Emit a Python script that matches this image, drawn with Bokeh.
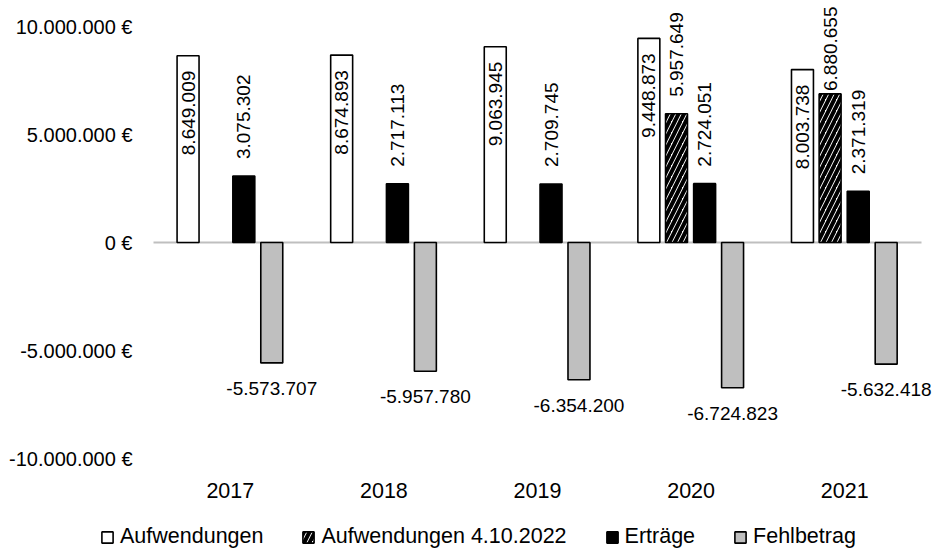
import math
from bokeh.plotting import figure
from bokeh.models import (ColumnDataSource, LabelSet, FixedTicker, Range1d,
                          CustomJSTickFormatter, Legend, LegendItem)
from bokeh.core.properties import value
from bokeh.transform import dodge
from bokeh.embed import file_html
from bokeh.resources import INLINE

# ---- data ----
years = ["2017", "2018", "2019", "2020", "2021"]
aufwendungen = [8649009, 8674893, 9063945, 9448873, 8003738]
aufw_2022_years = ["2020", "2021"]
aufwendungen_2022 = [5957649, 6880655]
ertraege = [3075302, 2717113, 2709745, 2724051, 2371319]
fehlbetrag = [-5573707, -5957780, -6354200, -6724823, -5632418]
y_ticks = [-10000000, -5000000, 0, 5000000, 10000000]
series_names = ["Aufwendungen", "Aufwendungen 4.10.2022", "Erträge", "Fehlbetrag"]


def de(v):
    s = f"{abs(int(v)):,}".replace(",", ".")
    return ("-" if v < 0 else "") + s


FONT = "Liberation Sans"
W_FIG, H_FIG = 933, 557
CAT_PX = 153.6                      # pixels per category
X0_PX = 229.8                       # pixel of first category centre
X_START = -X0_PX / CAT_PX
X_END = X_START + W_FIG / CAT_PX
PX_PER_M = 21.6
Y_TOP = 242 / PX_PER_M * 1e6        # value at figure top
Y_BOT = Y_TOP - H_FIG / PX_PER_M * 1e6
Y_XAXIS = Y_TOP - 469 / PX_PER_M * 1e6

idx = {y: i for i, y in enumerate(years)}

p = figure(x_range=Range1d(X_START, X_END), y_range=Range1d(Y_BOT, Y_TOP),
           width=W_FIG, height=H_FIG, output_backend="svg", toolbar_location=None,
           min_border_left=0, min_border_right=0, min_border_top=0, min_border_bottom=0)
p.outline_line_color = None
p.xgrid.visible = False
p.ygrid.visible = False
p.background_fill_color = "white"
p.border_fill_color = "white"

# zero line across the category area
p.segment(x0=[-0.5], y0=[0], x1=[len(years) - 0.5], y1=[0],
          line_color="#BFBFBF", line_width=2)

W = 0.143
offs = [-0.275, -0.095, 0.088, 0.27]
LBL_PX = 19
top_px = lambda v: (Y_TOP - v) / 1e6 * PX_PER_M
digits_w = lambda s: LBL_PX * sum(0.278 if c == "." else (0.333 if c == "-" else 0.556) for c in s)

s_a = ColumnDataSource(dict(x=[idx[y] for y in years], v=aufwendungen,
                            t=[de(v) for v in aufwendungen]))
t_h = [de(v) for v in aufwendungen_2022]
s_h = ColumnDataSource(dict(x=[idx[y] for y in aufw_2022_years], v=aufwendungen_2022, t=t_h,
                            off=[min(17, top_px(v) - digits_w(t) - 6) for v, t in zip(aufwendungen_2022, t_h)]))
t_e = [de(v) for v in ertraege]
s_e = ColumnDataSource(dict(x=[idx[y] for y in years], v=ertraege, t=t_e,
                            off=[min(17, top_px(v) - digits_w(t) - 6) for v, t in zip(ertraege, t_e)]))
t_f = [de(v) for v in fehlbetrag]
s_f = ColumnDataSource(dict(x=[idx[y] for y in years], v=fehlbetrag, t=t_f,
                            xoff=[min(0, W_FIG - 1 - (X0_PX + (idx[y] + offs[3]) * CAT_PX + digits_w(t) / 2))
                                  for y, t in zip(years, t_f)]))

r_a = p.vbar(x=dodge("x", offs[0]), top="v", bottom=0, width=W,
             source=s_a, fill_color="white", line_color="black", line_width=1.6)
r_h = p.vbar(x=dodge("x", offs[1]), top="v", bottom=0, width=W,
             source=s_h, fill_color="white", line_color="black", line_width=1.6,
             hatch_pattern="/", hatch_color="black", hatch_weight=4, hatch_scale=11)
r_e = p.vbar(x=dodge("x", offs[2]), top="v", bottom=0, width=W,
             source=s_e, fill_color="black", line_color="black", line_width=1.6)
r_f = p.vbar(x=dodge("x", offs[3]), top="v", bottom=0, width=W,
             source=s_f, fill_color="#BFBFBF", line_color="black", line_width=1.6)

LBL = f"{LBL_PX}px"
common = dict(text_font=value(FONT), text_font_size=value(LBL), text_color="black")
p.add_layout(LabelSet(x=dodge("x", offs[0]), y="v", text="t", source=s_a,
                      angle=math.pi / 2, text_align="right", text_baseline="middle",
                      y_offset=-15, **common))
p.add_layout(LabelSet(x=dodge("x", offs[1]), y="v", text="t", source=s_h,
                      angle=math.pi / 2, text_align="left", text_baseline="middle",
                      y_offset="off", **common))
p.add_layout(LabelSet(x=dodge("x", offs[2]), y="v", text="t", source=s_e,
                      angle=math.pi / 2, text_align="left", text_baseline="middle",
                      y_offset="off", **common))
p.add_layout(LabelSet(x=dodge("x", offs[3]), y="v", text="t", source=s_f,
                      text_align="center", text_baseline="top", x_offset="xoff",
                      y_offset=-19, **common))

# axes (drawn at fixed positions inside the frame)
p.yaxis.ticker = FixedTicker(ticks=y_ticks)
p.yaxis.formatter = CustomJSTickFormatter(code="""
const s = Math.abs(Math.round(tick)).toString().replace(/\\B(?=(\\d{3})+(?!\\d))/g, '.');
return (tick < 0 ? '-' : '') + s + ' €';
""")
p.yaxis.fixed_location = -0.5
p.xaxis.ticker = FixedTicker(ticks=list(range(len(years))))
p.xaxis.major_label_overrides = {i: y for i, y in enumerate(years)}
p.xaxis.fixed_location = Y_XAXIS
for ax in (p.xaxis, p.yaxis):
    ax.axis_line_color = None
    ax.major_tick_line_color = None
    ax.minor_tick_line_color = None
    ax.major_tick_out = 0
    ax.major_tick_in = 0
    ax.major_label_text_font = FONT
    ax.major_label_text_color = "black"
p.yaxis.major_label_text_font_size = "20px"
p.yaxis.major_label_standoff = 21
p.xaxis.major_label_text_font_size = "21.5px"
p.xaxis.major_label_standoff = 13

legend = Legend(items=[LegendItem(label=series_names[0], renderers=[r_a]),
                       LegendItem(label=series_names[1], renderers=[r_h]),
                       LegendItem(label=series_names[2], renderers=[r_e]),
                       LegendItem(label=series_names[3], renderers=[r_f])],
                orientation="horizontal", location=(100, 8),
                label_text_font=FONT, label_text_font_size="21.5px",
                glyph_width=14, glyph_height=14, label_standoff=6, spacing=38,
                label_height=25, padding=0, margin=0, border_line_color=None,
                background_fill_alpha=0, label_text_color="black")
p.add_layout(legend, "center")

open("out.html", "w").write(file_html(p, INLINE))
